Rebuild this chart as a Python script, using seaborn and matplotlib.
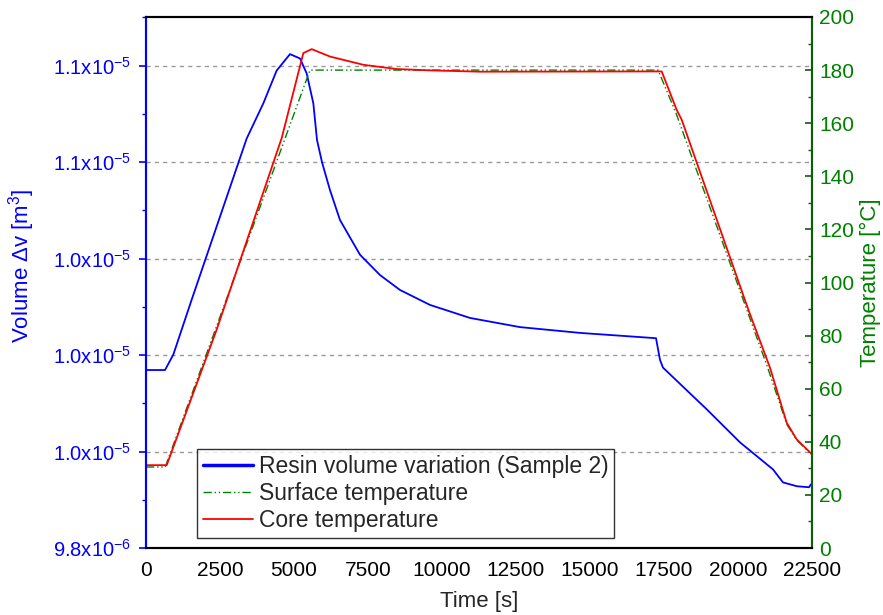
"""Resin volume variation and temperature during cure cycle (Sample 2)."""

import matplotlib

matplotlib.use("Agg")

import matplotlib.pyplot as plt
import matplotlib.ticker as mticker
import pandas as pd
import seaborn as sns

# resin volume (time in s, volume in 1e-6 m^3)
vol_time = [0, 642, 923, 1206, 1544, 2500, 3401, 3964, 4414, 4865, 5203, 5428,
            5653, 5777, 5946, 6216, 6554, 7230, 7905, 8581, 9595, 10946, 12635,
            14662, 17230, 17365, 17466, 18953, 20068, 21182, 21520, 21993, 22399,
            22466]
vol_value = [10.169, 10.169, 10.201, 10.253, 10.315, 10.487, 10.649, 10.722,
             10.790, 10.824, 10.815, 10.784, 10.722, 10.646, 10.600, 10.542,
             10.480, 10.408, 10.366, 10.335, 10.304, 10.277, 10.258, 10.246,
             10.235, 10.190, 10.174, 10.087, 10.019, 9.963, 9.936, 9.928, 9.926,
             9.932]

# surface temperature (deg C)
surf_time = [0, 650, 5540, 17300, 17900, 21000, 21650, 22000, 22500]
surf_temp = [30.5, 30.5, 180.0, 180.0, 164.0, 68.0, 46.5, 40.5, 35.0]

# core temperature (deg C)
core_time = [0, 699, 2389, 4584, 5315, 5598, 6216, 7343, 8469, 9595, 11284,
             17422, 17929, 18098, 20348, 21081, 21645, 21983, 22500]
core_temp = [31.2, 31.2, 82.3, 154.4, 186.4, 187.9, 185.1, 182.0, 180.4, 179.9,
             179.4, 179.5, 165.0, 161.3, 89.8, 67.9, 47.2, 40.9, 35.3]

vol_ticks = [9.8, 10.0, 10.2, 10.4, 10.6, 10.8]
vol_tick_labels = ["9.8x10$^{-6}$", "1.0x10$^{-5}$", "1.0x10$^{-5}$",
                   "1.0x10$^{-5}$", "1.1x10$^{-5}$", "1.1x10$^{-5}$"]

BLUE = "#0000FF"
RED = "#FF0000"
GREEN = "#008000"
DARK_GREEN = "#0B5E0B"


def main() -> None:
    sns.set_style("white")
    plt.rcParams["font.family"] = ["Liberation Sans", "DejaVu Sans"]
    plt.rcParams["mathtext.fontset"] = "custom"
    plt.rcParams["mathtext.rm"] = "Liberation Sans"
    plt.rcParams["mathtext.it"] = "Liberation Sans:italic"

    vol = pd.DataFrame({"time": vol_time, "volume": vol_value})
    surf = pd.DataFrame({"time": surf_time, "temp": surf_temp})
    core = pd.DataFrame({"time": core_time, "temp": core_temp})

    fig = plt.figure(figsize=(8.83, 6.15), dpi=100)
    ax = fig.add_axes([146 / 883, 67 / 615, 666 / 883, 531 / 615])
    ax2 = ax.twinx()

    sns.lineplot(data=vol, x="time", y="volume", ax=ax, color=BLUE, lw=1.3,
                 sort=False, estimator=None, label="Resin volume variation (Sample 2)",
                 legend=False)
    sns.lineplot(data=surf, x="time", y="temp", ax=ax2, color=GREEN, lw=1.0,
                 sort=False, estimator=None, label="Surface temperature",
                 legend=False)
    ax2.lines[-1].set_dashes([6, 2, 1, 2, 1, 2])
    sns.lineplot(data=core, x="time", y="temp", ax=ax2, color=RED, lw=1.3,
                 sort=False, estimator=None, label="Core temperature",
                 legend=False)

    ax.set_xlim(0, 22500)
    ax.set_ylim(9.8, 10.901)
    ax2.set_ylim(0, 200)

    ax.set_xticks(range(0, 22501, 2500))
    ax.xaxis.set_minor_locator(mticker.MultipleLocator(1250))
    ax.set_yticks(vol_ticks)
    ax.set_yticklabels(vol_tick_labels)
    ax.yaxis.set_minor_locator(mticker.MultipleLocator(0.1))
    ax2.set_yticks(range(0, 201, 20))
    ax2.yaxis.set_minor_locator(mticker.MultipleLocator(10))

    for y in vol_ticks[1:]:
        ax.axhline(y, color="#9a9a9a", lw=1.0, ls=(0, (3, 3)), zorder=0)

    ax.tick_params(axis="x", which="major", direction="out", length=5, width=1.2,
                   labelsize=15, colors="black", pad=4)
    ax.tick_params(axis="x", which="minor", direction="out", length=3, width=1.0)
    ax.tick_params(axis="y", which="major", direction="out", length=5, width=1.2,
                   labelsize=14.5, colors=BLUE, labelcolor=BLUE, pad=6)
    ax.tick_params(axis="y", which="minor", direction="out", length=3, width=1.0,
                   colors=BLUE)
    ax2.tick_params(axis="y", which="major", direction="in", length=5, width=1.2,
                    labelsize=15, colors=DARK_GREEN, labelcolor=GREEN, pad=5)
    ax2.tick_params(axis="y", which="minor", direction="in", length=3, width=1.0,
                    colors=DARK_GREEN)

    for a in (ax, ax2):
        a.spines["top"].set_color("black")
        a.spines["bottom"].set_color("black")
        a.spines["left"].set_color(BLUE)
        a.spines["right"].set_color(DARK_GREEN)
        for s in a.spines.values():
            s.set_linewidth(1.5)

    ax.set_xlabel("Time [s]", fontsize=16, labelpad=8)
    ax.set_ylabel("Volume $\\Delta$v [m$^3$]", fontsize=16, color=BLUE)
    ax.yaxis.set_label_coords(-0.163, 0.532)
    ax2.set_ylabel("Temperature [°C]", fontsize=16, color=GREEN, labelpad=4)

    handles = ax.lines[:1] + ax2.lines[:2]
    leg = ax.legend(handles=handles, labels=[h.get_label() for h in handles],
                    loc="lower left", bbox_to_anchor=(51 / 666, 10 / 531),
                    fontsize=16.5, frameon=True, fancybox=False, edgecolor="black",
                    handlelength=2.2, handletextpad=0.25, borderpad=0.25,
                    labelspacing=0.18, borderaxespad=0)
    leg.get_frame().set_linewidth(1.0)
    leg.get_lines()[0].set_linewidth(2.5)
    leg.set_zorder(10)

    fig.savefig("out.png", dpi=100)
    plt.close(fig)


if __name__ == "__main__":
    main()
